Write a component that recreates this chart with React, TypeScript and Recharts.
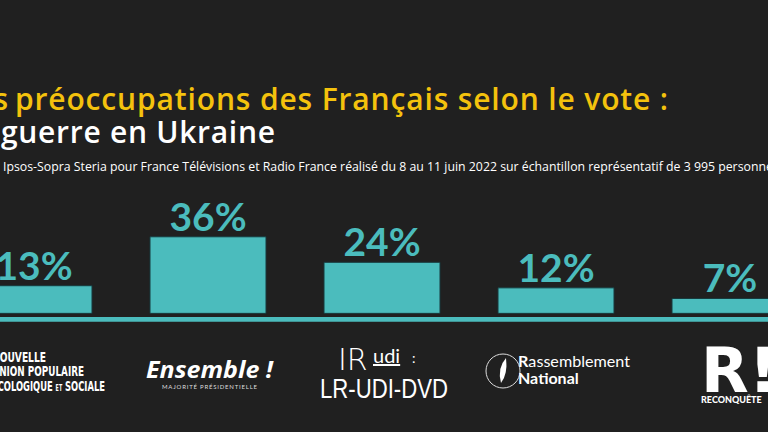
import { BarChart, Bar, XAxis, YAxis, LabelList, ReferenceArea } from 'recharts';

const parties = ['NUPES', 'Ensemble !', 'LR-UDI-DVD', 'Rassemblement National', 'Reconquête'];
const shares = [13, 36, 24, 12, 7];

const data = parties.map((party, i) => ({ party, share: shares[i] }));

const BG = '#202020';
const TEAL = '#4bbcbd';
const YELLOW = '#f4c20d';
const FONT = 'Lato, "Open Sans", sans-serif';
const WIDE = '"Open Sans", Lato, sans-serif';

function PartyLogo({ x, y, payload }: any) {
  const name: string = payload.value;
  const cx = x;
  const top = y;
  if (name === 'NUPES') {
    const style = { fontFamily: '"DejaVu Sans Condensed", "Liberation Sans Narrow", sans-serif', fontWeight: 700, fontSize: 14, fill: '#fff' };
    return (
      <g>
        <text x={cx - 42} y={top + 30} textLength={54} lengthAdjust="spacingAndGlyphs" style={style}>NOUVELLE</text>
        <text x={cx - 42} y={top + 44} textLength={92} lengthAdjust="spacingAndGlyphs" style={style}>UNION POPULAIRE</text>
        <text x={cx - 42} y={top + 59} textLength={113} lengthAdjust="spacingAndGlyphs" style={style}>
          ÉCOLOGIQUE <tspan fontSize={8}>ET</tspan> SOCIALE
        </text>
      </g>
    );
  }
  if (name === 'Ensemble !') {
    return (
      <g>
        <text x={cx - 62} y={top + 46} textLength={127} lengthAdjust="spacingAndGlyphs" style={{ fontFamily: WIDE, fontWeight: 700, fontStyle: 'italic', fontSize: 24, fill: '#fff' }}>
          Ensemble !
        </text>
        <text x={cx - 46} y={top + 57} textLength={95} lengthAdjust="spacing" style={{ fontFamily: FONT, fontSize: 6, fill: '#ddd' }}>
          MAJORITÉ PRÉSIDENTIELLE
        </text>
      </g>
    );
  }
  if (name === 'LR-UDI-DVD') {
    return (
      <g>
        <text x={cx - 44} y={top + 38} style={{ fontFamily: '"DejaVu Sans", sans-serif', fontWeight: 200, fontSize: 30, fill: '#fff' }}>IR</text>
        <text x={cx - 9} y={top + 31} textDecoration="underline" style={{ fontFamily: FONT, fontSize: 20, fill: '#fff' }}>udi</text>
        <text x={cx + 30} y={top + 31} style={{ fontFamily: FONT, fontSize: 14, fill: '#fff' }}>:</text>
        <text x={cx - 62} y={top + 66} textLength={128} lengthAdjust="spacingAndGlyphs" style={{ fontFamily: '"Liberation Sans", sans-serif', fontSize: 27, fill: '#fff' }}>LR-UDI-DVD</text>
      </g>
    );
  }
  if (name === 'Rassemblement National') {
    return (
      <g>
        <circle cx={cx - 53} cy={top + 39} r={17} fill="none" stroke="#ddd" strokeWidth={1} />
        <path d={`M${cx - 50} ${top + 26} q-9 10 -5 25 q7 -9 5 -25 z`} fill="#fff" />
        <text x={cx - 38} y={top + 35} textLength={112} lengthAdjust="spacingAndGlyphs" style={{ fontFamily: FONT, fontSize: 16, fill: '#fff' }}>
          <tspan fontWeight={700}>R</tspan>assemblement
        </text>
        <text x={cx - 38} y={top + 52} style={{ fontFamily: FONT, fontWeight: 700, fontSize: 16, fill: '#fff' }}>National</text>
      </g>
    );
  }
  return (
    <g>
      <text x={cx - 29} y={top + 60} style={{ fontFamily: '"DejaVu Sans", sans-serif', fontWeight: 900, fontSize: 62, fill: '#fff' }}>R!</text>
      <text x={cx - 29} y={top + 71} style={{ fontFamily: FONT, fontWeight: 900, fontSize: 9, fill: '#fff' }}>RECONQUÊTE</text>
    </g>
  );
}

export default function App() {
  return (
    <div style={{ position: 'fixed', left: 0, top: 0, width: 768, height: 432, overflow: 'hidden', background: BG }}>
      <div style={{ position: 'absolute', left: -53, top: 0 }}>
        <BarChart width={870} height={432} data={data} margin={{ top: 207, right: 0, bottom: 8, left: 0 }}>
          <YAxis hide domain={[-5, 50]} />
          <XAxis dataKey="party" axisLine={false} tickLine={false} height={100} interval={0} tick={<PartyLogo />} />
          <ReferenceArea y1={-4} y2={-1.7} fill={TEAL} fillOpacity={1} stroke="none" ifOverflow="visible" />
          <Bar dataKey="share" fill={TEAL} stroke="#17393c" strokeWidth={1} barSize={116} isAnimationActive={false}>
            <LabelList
              dataKey="share"
              position="top"
              offset={6}
              formatter={(v: any) => `${v}%`}
              style={{ fill: TEAL, fontFamily: FONT, fontWeight: 700, fontSize: 39 }}
            />
          </Bar>
        </BarChart>
      </div>
      <svg width={768} height={432} style={{ position: 'absolute', left: 0, top: 0, pointerEvents: 'none' }}>
        <g style={{ fontFamily: WIDE, fontWeight: 600, fontSize: 30, fill: YELLOW }}>
          <text x={8} y={110} textAnchor="end">Les</text>
          <text x={15} y={110} textLength={653} lengthAdjust="spacing">préoccupations des Français selon le vote :</text>
        </g>
        <g style={{ fontFamily: WIDE, fontWeight: 600, fontSize: 30, fill: '#fff' }}>
          <text x={-7} y={143} textAnchor="end">La</text>
          <text x={1} y={143} textLength={274} lengthAdjust="spacing">guerre en Ukraine</text>
        </g>
        <g style={{ fontFamily: WIDE, fontSize: 12.3, fill: '#fff' }}>
          <text x={-1} y={171} textAnchor="end">Sondage</text>
          <text x={3} y={171}>
            Ipsos-Sopra Steria pour France Télévisions et Radio France réalisé du 8 au 11 juin 2022 sur échantillon représentatif de 3 995 personnes
          </text>
        </g>
      </svg>
    </div>
  );
}
